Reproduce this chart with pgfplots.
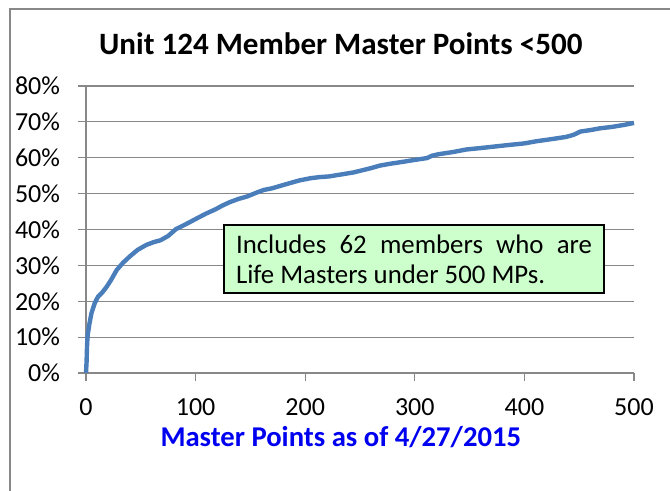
\documentclass[border=0pt]{standalone}
\usepackage{pgfplots}
\pgfplotsset{compat=1.18}
\usepackage{fontspec}
\setmainfont{Carlito}
\definecolor{lineblue}{HTML}{4A7EBB}
\definecolor{gridgray}{HTML}{888888}
\definecolor{boxgreen}{HTML}{CCFFCC}
\definecolor{labelblue}{HTML}{0000F0}
\begin{document}
\begin{tikzpicture}
\useasboundingbox (0,0) rectangle (502.5pt,368.25pt);
\draw[gridgray, line width=0.9pt] (7.5pt,-2pt) -- (7.5pt,361.5pt) -- (505pt,361.5pt);
\begin{axis}[
  at={(64.5pt,88.5pt)}, anchor=south west,
  scale only axis, width=411pt, height=215.25pt,
  xmin=0, xmax=500, ymin=0, ymax=80,
  xtick={0,100,...,500}, ytick={0,10,...,80},
  axis lines*=left,
  axis line style={gridgray, line width=0.9pt},
  tick style={gridgray, line width=0.9pt},
  major tick length=6pt,
  tick align=outside,
  ymajorgrids, grid style={gridgray, line width=0.9pt},
  /pgf/number format/assume math mode=true,
  yticklabel={\pgfmathprintnumber{\tick}\%},
  ticklabel style={font=\fontsize{19.5}{22}\selectfont, text=black},
  xticklabel style={yshift=-10pt},
  yticklabel style={xshift=-10pt},
  title={\textbf{Unit 124 Member Master Points <500}},
  title style={font=\fontsize{23.3}{27}\selectfont, at={(axis description cs:0.465,1)}, anchor=center, yshift=26pt},
  xlabel={\textbf{Master Points as of 4/27/2015}},
  xlabel style={font=\fontsize{21.5}{24}\selectfont, text=labelblue, at={(axis description cs:0.465,0)}, anchor=center, yshift=-48pt},
  clip=false,
]
\addplot[lineblue, line width=3.3pt, line join=round] coordinates {
(0,0) (0.5,3) (1,8) (1.5,10.5) (3,13.5) (5,16.7) (8,19.5) (11,21.3) (15,22.5) (19,24.1)
(23,26) (28,28.7) (34,30.8) (40,32.5) (47,34.3) (55,35.7) (62,36.5) (68,37) (75,38.2)
(82,40.1) (88,41) (95,42.1) (103,43.4) (110,44.5) (118,45.6) (124,46.6) (131,47.6)
(139,48.5) (147,49.2) (155,50.2) (162,51) (170,51.5) (180,52.4) (188,53.1) (195,53.7)
(205,54.3) (213,54.6) (222,54.8) (232,55.3) (244,55.9) (252,56.5) (260,57.1) (268,57.8)
(277,58.3) (290,58.9) (300,59.4) (311,59.9) (316,60.6) (322,61) (335,61.6) (347,62.3)
(360,62.7) (375,63.2) (387,63.6) (400,64.0) (411,64.6) (425,65.2) (438,65.8) (445,66.4)
(451,67.3) (460,67.7) (469,68.2) (480,68.6) (490,69.1) (500,69.7)
};
\node[draw=black, line width=1.2pt, fill=boxgreen, minimum width=285pt, minimum height=51pt,
  inner sep=0pt, anchor=center] at (axis cs:299.3,31.8)
  {\parbox{267pt}{\fontsize{20.1}{22.5}\selectfont Includes 62 members who are\linebreak Life Masters under 500 MPs.}};
\end{axis}
\end{tikzpicture}
\end{document}
